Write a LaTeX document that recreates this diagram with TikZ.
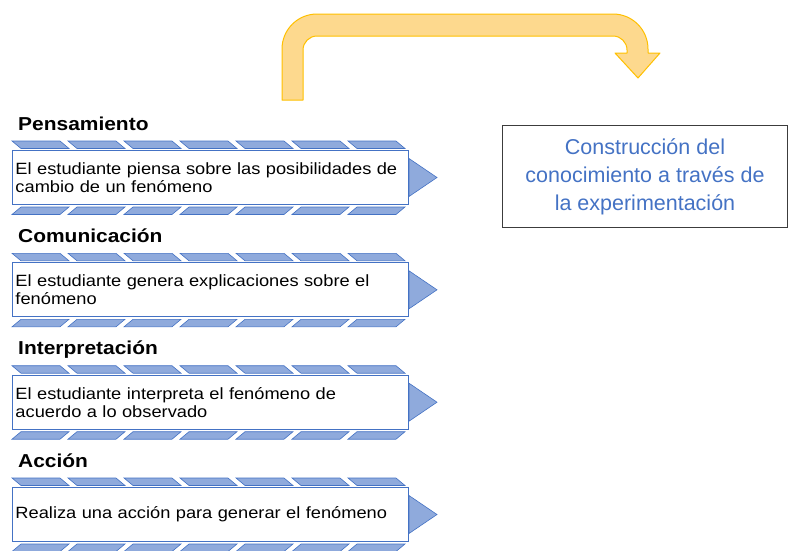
\documentclass[tikz,border=0pt]{standalone}
\usepackage{fontspec}
\setmainfont{Liberation Sans}
\newfontfamily\widesans[FakeStretch=1.12]{Liberation Sans}
\usetikzlibrary{calc}
\definecolor{stripeblue}{RGB}{143,170,220}
\definecolor{edgeblue}{RGB}{68,114,196}
\definecolor{arrowfill}{RGB}{253,217,142}
\definecolor{arrowedge}{RGB}{255,192,0}
\definecolor{framegray}{RGB}{60,60,60}

\tikzset{
  stagetitle/.style={anchor=base west, inner sep=0pt,
    font=\widesans\fontsize{18.7}{20}\selectfont\bfseries},
  stagebox/.style={draw=edgeblue, line width=1pt, fill=white, anchor=north west,
    minimum width=396pt, minimum height=54pt, text width=390pt,
    inner xsep=3pt, inner ysep=0pt, align=left,
    font=\widesans\fontsize{16.3}{18}\selectfont},
  stripe/.style={fill=stripeblue, draw=edgeblue, line width=0.6pt},
  resultbox/.style={draw=framegray, line width=1pt, anchor=north west,
    minimum width=285pt, minimum height=102pt, align=center, text=edgeblue,
    font=\fontsize{21.5}{28}\selectfont},
  bentarrow/.style={fill=arrowfill, draw=arrowedge, line width=1pt, line join=round}
}

\begin{document}
\begin{tikzpicture}[x=1pt,y=-1pt]
\useasboundingbox (0,0) rectangle (793,550);

\filldraw[bentarrow] (282,100) -- (282,49) arc(180:270:35) -- (613,14) arc(270:360:35)
  -- (648,53) -- (660,53) -- (638,78) -- (615,53) -- (627,53) -- (627,50) arc(0:-90:14)
  -- (317,36) arc(270:180:14) -- (303,100) -- cycle;

\node[stagetitle] (t1) at (18,130) {Pensamiento};
\node[stagebox] (p1) at (12,150) {El estudiante piensa sobre las posibilidades de\\cambio de un fenómeno};

\node[stagetitle] (t2) at (18,242.3) {Comunicación};
\node[stagebox] (p2) at (12,262.3) {El estudiante genera explicaciones sobre el\\fenómeno};

\node[stagetitle] (t3) at (18,354.7) {Interpretación};
\node[stagebox] (p3) at (12,374.7) {El estudiante interpreta el fenómeno de\\acuerdo a lo observado};

\node[stagetitle] (t4) at (18,467) {Acción};
\node[stagebox] (p4) at (12,487) {Realiza una acción para generar el fenómeno};

\foreach \b in {p1,p2,p3,p4}{
  \draw[stripe] ($(\b.east)+(0,-19)$) -- ($(\b.east)+(28,0)$) -- ($(\b.east)+(0,19)$) -- cycle;
  \foreach \k in {0,...,6}{
    \draw[stripe] ($(\b.north west)+(56*\k,-9)$) -- ++(48,0) -- ++(9,7.5) -- ++(-48,0) -- cycle;
    \draw[stripe] ($(\b.south west)+(56*\k,9.5)$) -- ++(48,0) -- ++(9,-7.5) -- ++(-48,0) -- cycle;
  }
}

\node[resultbox] (goal) at (502,125) {Construcción del\\conocimiento a través de\\la experimentación};
\end{tikzpicture}
\end{document}
